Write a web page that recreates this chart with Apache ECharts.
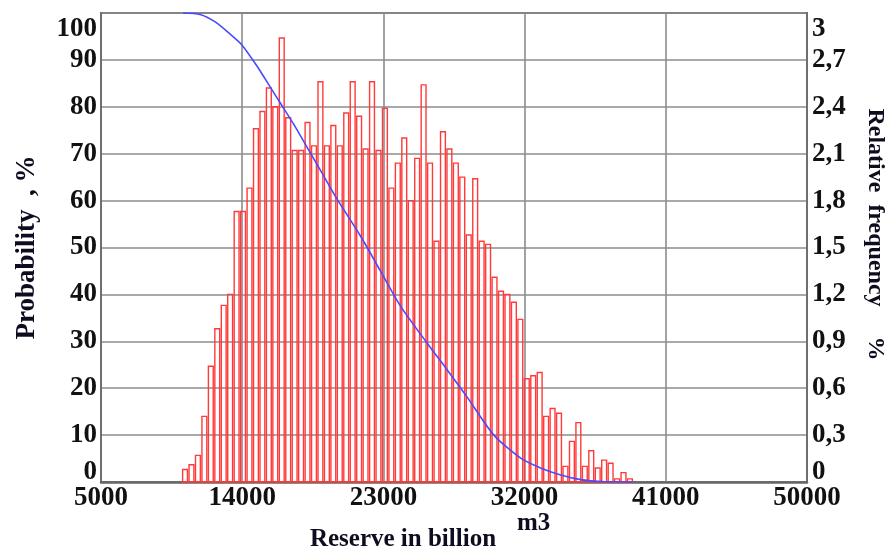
<!DOCTYPE html>
<html><head><meta charset="utf-8">
<script src="https://cdn.jsdelivr.net/npm/echarts@6/dist/echarts.min.js"></script>
<style>html,body{margin:0;padding:0;background:#fff}#c{width:888px;height:550px}</style>
</head><body><div id="c"></div>
<script>
// Histogram bins (lower edge, billion m3) and bin width
const binEdges = [10150, 10561, 10972, 11383, 11794, 12205, 12616, 13027, 13438, 13849,
  14260, 14671, 15082, 15493, 15904, 16315, 16726, 17137, 17548, 17959,
  18370, 18781, 19192, 19603, 20014, 20425, 20836, 21247, 21658, 22069,
  22480, 22891, 23302, 23713, 24124, 24535, 24946, 25357, 25768, 26179,
  26590, 27001, 27412, 27823, 28234, 28645, 29056, 29467, 29878, 30289,
  30700, 31111, 31522, 31933, 32344, 32755, 33166, 33577, 33988, 34399,
  34810, 35221, 35632, 36043, 36454, 36865, 37276, 37687, 38098, 38509];
const binWidth = 411;
// Relative frequency, % (right axis)
const relFreq = [0.08, 0.11, 0.17, 0.42, 0.74, 0.98, 1.13, 1.20, 1.73, 1.73,
  1.88, 2.26, 2.37, 2.52, 2.40, 2.84, 2.33, 2.12, 2.12, 2.30,
  2.15, 2.56, 2.15, 2.28, 2.15, 2.36, 2.56, 2.34, 2.13, 2.56,
  2.12, 2.39, 1.88, 2.04, 2.20, 1.80, 2.07, 2.54, 2.04, 1.54,
  2.24, 2.13, 2.04, 1.95, 1.58, 1.94, 1.54, 1.52, 1.31, 1.22,
  1.20, 1.15, 1.04, 0.66, 0.68, 0.70, 0.42, 0.47, 0.44, 0.10,
  0.26, 0.38, 0.10, 0.20, 0.09, 0.14, 0.12, 0.02, 0.06, 0.02];
// Exceedance probability curve (left axis)
const cdfX = [10230, 11320, 12280, 13230, 13980, 14940, 15790, 16430, 17280, 18130,
  18980, 20050, 21530, 22810, 24090, 25790, 27070, 28340, 30040, 31750,
  33020, 34300, 35580, 36850, 38900];
const cdfY = [100, 99.7, 98.1, 95.5, 93.2, 88.7, 84.2, 80.8, 76.3, 71.4,
  66.5, 60.3, 52.5, 45.0, 37.5, 29.6, 23.9, 18.1, 10.0, 5.1,
  3.0, 1.5, 0.5, 0.1, 0];
const xTicks = [5000, 14000, 23000, 32000, 41000, 50000];
const xName = 'Reserve in billion';
const xUnit = 'm3';
const leftName = 'Probability  , %';
const rightName = 'Relative  frequency     %';

const FONT = '"Liberation Serif", "Times New Roman", serif';
const chart = echarts.init(document.getElementById('c'), null, {renderer: 'canvas'});
const tickLabel = {fontFamily: FONT, fontWeight: 'bold', fontSize: 27, color: '#111'};
const endRich = {
  t: {fontFamily: FONT, fontWeight: 'bold', fontSize: 27, color: '#111', lineHeight: 32},
  b: {fontFamily: FONT, fontWeight: 'bold', fontSize: 27, color: '#111', lineHeight: 20}
};
const split = {show: true, lineStyle: {color: '#8c8c8c', width: 1.6}};
function yFmt(max, conv) {
  return function (v) {
    const s = conv(v);
    if (v === 0) return '{b|' + s + '}';
    if (Math.abs(v - max) < 1e-9) return '{t|' + s + '}';
    return s;
  };
}

chart.setOption({
  animation: false,
  backgroundColor: '#fff',
  grid: {left: 101, right: 81, top: 13, bottom: 68, show: true, borderColor: '#6f6f6f', borderWidth: 2,
    containLabel: false, outerBoundsMode: 'none'},
  xAxis: {
    type: 'value', min: xTicks[0], max: xTicks[xTicks.length - 1], interval: xTicks[1] - xTicks[0],
    axisLine: {show: true, lineStyle: {color: '#666', width: 2.5}},
    axisTick: {show: false},
    axisLabel: Object.assign({margin: 3, formatter: v => String(v)}, tickLabel),
    splitLine: split,
    name: xName, nameLocation: 'middle', nameGap: 45,
    nameTextStyle: {fontFamily: FONT, fontWeight: 'bold', fontSize: 25, color: '#0d0d1f', padding: [0, 102, 0, 0]}
  },
  yAxis: [{
    type: 'value', min: 0, max: 100, interval: 10, position: 'left',
    axisLine: {show: true, lineStyle: {color: '#6f6f6f', width: 2}},
    axisTick: {show: false},
    axisLabel: Object.assign({margin: 4, verticalAlignMinLabel: 'bottom', verticalAlignMaxLabel: 'top',
      formatter: yFmt(100, v => String(v)), rich: endRich}, tickLabel),
    splitLine: split,
    name: leftName, nameLocation: 'middle', nameRotate: 90, nameGap: 60,
    nameTextStyle: {fontFamily: FONT, fontWeight: 'bold', fontSize: 27, color: '#0d0d1f'}
  }, {
    type: 'value', min: 0, max: 3, interval: 0.3, position: 'right',
    axisLine: {show: true, lineStyle: {color: '#6f6f6f', width: 2}},
    axisTick: {show: false},
    axisLabel: Object.assign({margin: 5, verticalAlignMinLabel: 'bottom', verticalAlignMaxLabel: 'top',
      formatter: yFmt(3, v => String(+v.toFixed(1)).replace('.', ',')), rich: endRich}, tickLabel),
    splitLine: {show: false},
    name: rightName, nameLocation: 'middle', nameRotate: -90, nameGap: 56,
    nameTextStyle: {fontFamily: FONT, fontWeight: 'bold', fontSize: 24, color: '#0d0d1f', padding: [0, 26, 0, 0]}
  }],
  graphic: [{type: 'text', left: 517, top: 511, style: {text: xUnit, font: 'bold 25px "Liberation Serif"', fill: '#0d0d1f'}}],
  series: [{
    type: 'custom', yAxisIndex: 1, z: 2,
    data: binEdges.map((e, i) => [e, relFreq[i]]),
    encode: {x: 0, y: 1},
    renderItem: function (params, api) {
      const x0 = api.value(0), v = api.value(1);
      const p0 = api.coord([x0, v]);
      const p1 = api.coord([x0 + binWidth, 0]);
      return {type: 'rect', shape: {x: p0[0] + 0.8, y: p0[1], width: p1[0] - p0[0] - 1.6, height: p1[1] - p0[1]},
        style: {fill: 'rgba(255,255,255,0)', stroke: '#ff3a3a', lineWidth: 1.4}};
    }
  }, {
    type: 'line', yAxisIndex: 0, z: 3, smooth: 0.25, showSymbol: false,
    data: cdfX.map((x, i) => [x, cdfY[i]]),
    lineStyle: {color: '#4a4aff', width: 1.6}
  }]
});
</script>
</body></html>
